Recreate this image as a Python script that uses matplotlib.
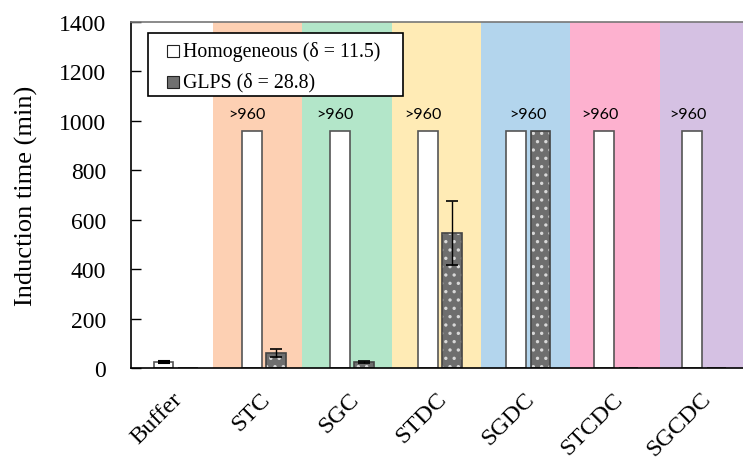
import matplotlib.pyplot as plt
from matplotlib.patches import Rectangle
from matplotlib.transforms import ScaledTranslation

categories = ['Buffer', 'STC', 'SGC', 'STDC', 'SGDC', 'STCDC', 'SGCDC']
homogeneous = [27, 960, 960, 960, 960, 960, 960]
homogeneous_err = [4, 0, 0, 0, 0, 0, 0]
glps = [0, 61, 27, 547, 960, 0, 0]
glps_err = [0, 16, 3, 130, 0, 0, 0]
over_labels = ['', '>960', '>960', '>960', '>960', '>960', '>960']
band_colors = ['#fdd0b3', '#b3e6c9', '#ffebb5', '#b3d5ed', '#fdb1cf', '#d5c1e3']
legend_labels = ['Homogeneous (\u03b4 = 11.5)', 'GLPS (\u03b4 = 28.8)']

plt.rcParams['font.family'] = ['Liberation Serif', 'DejaVu Serif']
plt.rcParams['hatch.linewidth'] = 1.2

fig = plt.figure(figsize=(7.43, 4.64), dpi=100)
ax = fig.add_axes([0.1763, 0.2037, 0.8237, 0.7478])

x = list(range(len(categories)))
w = 0.225
off = 0.14

# coloured background bands behind each sample (not Buffer)
for i, c in enumerate(band_colors):
    left = 0.42 + i * 1.015
    ax.axvspan(left, left + 1.015, color=c, lw=0, zorder=0)

xh = [i - off for i in x]
xg = [i + off for i in x]

ax.bar(xh, homogeneous, w, color='white', edgecolor='#555555', lw=1.2, zorder=2)
hi = [i for i in x if homogeneous_err[i] > 0]
ax.errorbar([xh[i] for i in hi], [homogeneous[i] for i in hi],
            yerr=[homogeneous_err[i] for i in hi], fmt='none', ecolor='black',
            elinewidth=1, capsize=4, capthick=1.5, zorder=3)

# GLPS bars: grey with white dot pattern
ax.bar(xg, glps, w, color='#6e6e6e', edgecolor='#d8d8d8', hatch='..', lw=0, zorder=2)
ax.bar(xg, glps, w, color='none', edgecolor='#444444', lw=1.2, zorder=2)
gi = [i for i in x if glps_err[i] > 0]
ax.errorbar([xg[i] for i in gi], [glps[i] for i in gi],
            yerr=[glps_err[i] for i in gi], fmt='none', ecolor='black',
            elinewidth=1, capsize=4, capthick=1.2, zorder=3)

for i, t in enumerate(over_labels):
    if not t:
        continue
    tx = i if glps[i] >= 960 else xh[i] - 0.05
    ax.text(tx, 1025, t, ha='center', va='center', fontsize=11.5,
            family=['Lato', 'DejaVu Sans'], color='black', zorder=4)

ax.set_xlim(-0.51, 6.44)
ax.set_ylim(0, 1400)
ax.set_yticks(range(0, 1401, 200))
ax.set_xticks(x)
ax.set_xticklabels(categories, rotation=45, ha='right', rotation_mode='anchor')
ax.tick_params(axis='x', length=0, pad=14, labelsize=17.5)
ax.tick_params(axis='y', direction='in', length=7, width=1, labelsize=17, pad=18)
shift = ScaledTranslation(-0.04, 0, fig.dpi_scale_trans)
for lab in ax.get_xticklabels():
    lab.set_transform(lab.get_transform() + shift)
ax.set_ylabel('Induction time (min)', fontsize=19, labelpad=15)

for s in ax.spines.values():
    s.set_linewidth(1.2)
ax.spines['top'].set_color('#777777')
ax.spines['right'].set_visible(False)

# legend box drawn by hand so its padding matches
ax.add_patch(Rectangle((0.028, 0.785), 0.416, 0.182, transform=ax.transAxes,
                       facecolor='white', edgecolor='black', lw=1.2, zorder=5))
for row, (lab, fc) in enumerate(zip(legend_labels, ['white', '#707070'])):
    yy = 0.916 - row * 0.091
    ax.plot([0.0694], [yy], transform=ax.transAxes, ls='none', marker='s',
            markersize=8, mfc=fc, mec='#222222', mew=0.8, zorder=6)
    ax.text(0.0845, yy, lab, transform=ax.transAxes, fontsize=14.3,
            ha='left', va='center', zorder=6)

plt.savefig('out.png', dpi=100)
plt.close()
